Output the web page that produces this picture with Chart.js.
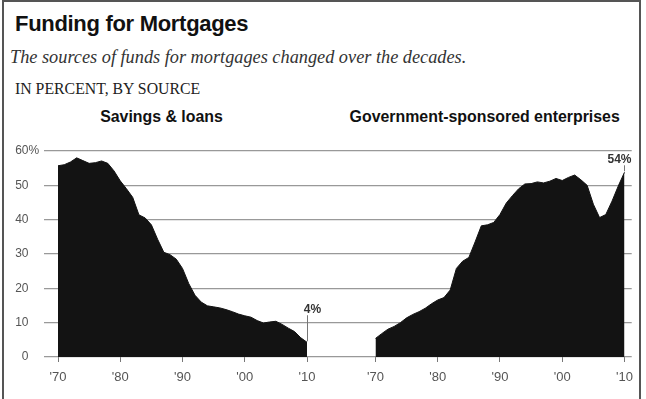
<!DOCTYPE html>
<html>
<head>
<meta charset="utf-8">
<script src="https://cdn.jsdelivr.net/npm/chart.js@4/dist/chart.umd.min.js"></script>
<style>
html,body{margin:0;padding:0;background:#fff;}
body{width:646px;height:399px;position:relative;overflow:hidden;}
#frame{position:absolute;left:2px;top:0;width:639px;height:430px;border:2px solid #555;box-sizing:border-box;}
.t{position:absolute;white-space:nowrap;}
#title{left:15px;top:13px;font:bold 22px/22px "Liberation Sans",Arial,sans-serif;color:#111;letter-spacing:-0.3px;}
#sub{left:10px;top:47.5px;font:italic 18.3px/18.3px "Liberation Serif","DejaVu Serif",serif;color:#333;}
#unit{left:15px;top:80.8px;font:15.8px/15.8px "Liberation Serif","DejaVu Serif",serif;color:#222;}
#p1{left:61.5px;width:200px;top:109.2px;text-align:center;font:bold 15.9px/15.9px "Liberation Sans",Arial,sans-serif;color:#111;}
#p2{left:334.7px;width:300px;top:109.2px;text-align:center;font:bold 15.9px/15.9px "Liberation Sans",Arial,sans-serif;color:#111;}
canvas{position:absolute;left:0;top:0;}
</style>
</head>
<body>
<div id="frame"></div>
<div class="t" id="title">Funding for Mortgages</div>
<div class="t" id="sub">The sources of funds for mortgages changed over the decades.</div>
<div class="t" id="unit">IN PERCENT, BY SOURCE</div>
<div class="t" id="p1">Savings &amp; loans</div>
<div class="t" id="p2">Government-sponsored enterprises</div>
<canvas id="c" width="646" height="399"></canvas>
<script>
// ---- data ----
const years = [1970,1971,1972,1973,1974,1975,1976,1977,1978,1979,
               1980,1981,1982,1983,1984,1985,1986,1987,1988,1989,
               1990,1991,1992,1993,1994,1995,1996,1997,1998,1999,
               2000,2001,2002,2003,2004,2005,2006,2007,2008,2009,2010];
const savingsLoans = [55.7,56.0,56.8,58.0,57.2,56.4,56.6,57.1,56.4,54.2,
                      51.3,49.0,46.5,41.4,40.5,38.5,34.3,30.5,29.8,28.5,
                      25.8,21.4,18.0,16.0,14.9,14.6,14.3,13.8,13.2,12.5,
                      12.0,11.6,10.6,9.9,10.2,10.4,9.5,8.4,7.4,5.6,4.3];
const gse = [5.4,6.8,8.1,8.9,10.0,11.4,12.4,13.2,14.2,15.5,
             16.6,17.3,19.5,25.8,27.9,29.0,33.5,38.2,38.5,39.2,
             41.5,44.8,47.0,49.0,50.4,50.5,51.0,50.7,51.2,52.0,
             51.4,52.3,53.0,51.6,50.0,44.5,40.6,41.5,45.4,49.8,53.8];
const panelNames = ["Savings & loans","Government-sponsored enterprises"];
const xTickYears = [1970,1980,1990,2000,2010];
const xTickLabels = ["'70","'80","'90","'00","'10"];
const yTickLabels = ["0","10","20","30","40","50","60"];
const yTopSuffix = "%";
const endLabels = ["4%","54%"];

// ---- layout constants ----
const OFFSET = 51;          // shift of the second panel along the shared x axis
const XMIN = 1967.75, XMAX = 2062.16;

const leftPts = years.map((y,i)=>({x:y, y:savingsLoans[i]}));
const rightPts = years.map((y,i)=>({x:y+OFFSET, y:gse[i]}));
const tickPositions = xTickYears.concat(xTickYears.map(y=>y+OFFSET));

const annCfg = [{ds:0, text:endLabels[0], len:27, dx:5},
                {ds:1, text:endLabels[1], len:7, dx:-5}];

const annPlugin = {
  id:'ann',
  afterDatasetsDraw(chart){
    const ctx = chart.ctx;
    ctx.save();
    annCfg.forEach(a=>{
      const meta = chart.getDatasetMeta(a.ds);
      const el = meta.data[meta.data.length-1];
      const x = Math.round(el.x)+0.5;
      const y = el.y;
      ctx.strokeStyle = '#777';
      ctx.lineWidth = 1;
      ctx.beginPath();
      ctx.moveTo(x, y-1);
      ctx.lineTo(x, y-a.len);
      ctx.stroke();
      ctx.fillStyle = '#333';
      ctx.font = '600 12px "Liberation Sans", Arial, sans-serif';
      ctx.textAlign = 'center';
      ctx.textBaseline = 'alphabetic';
      ctx.fillText(a.text, x + a.dx, y - a.len - 2.5);
    });
    const ys = chart.scales.y;
    ctx.fillStyle = '#555';
    ctx.font = '12px "Liberation Sans", Arial, sans-serif';
    ctx.textAlign = 'left';
    ctx.textBaseline = 'middle';
    ctx.fillText(yTopSuffix, 28.5, ys.getPixelForValue(60));
    ctx.restore();
  }
};

new Chart(document.getElementById('c'), {
  type:'line',
  data:{
    datasets:[
      {label:panelNames[0], data:leftPts, fill:'origin', backgroundColor:'#131313', borderColor:'#131313', borderWidth:1, pointRadius:0, tension:0},
      {label:panelNames[1], data:rightPts, fill:'origin', backgroundColor:'#131313', borderColor:'#131313', borderWidth:1, pointRadius:0, tension:0}
    ]
  },
  options:{
    responsive:false,
    animation:false,
    devicePixelRatio:1,
    layout:{padding:{top:151, right:14.3, left:0, bottom:0}},
    plugins:{legend:{display:false}, tooltip:{enabled:false}},
    scales:{
      x:{
        type:'linear', min:XMIN, max:XMAX,
        afterBuildTicks(s){ s.ticks = tickPositions.map(v=>({value:v})); },
        afterFit(s){ s.height = 42; },
        grid:{drawOnChartArea:false, drawTicks:true, tickLength:5, color:'#777', lineWidth:1},
        border:{display:false},
        ticks:{autoSkip:false, maxRotation:0, padding:8, color:'#555',
               font:{family:'"Liberation Sans", Arial, sans-serif', size:13},
               callback:(v,i)=>xTickLabels[i % xTickLabels.length]}
      },
      y:{
        min:0, max:60,
        afterBuildTicks(s){ s.ticks = yTickLabels.map(t=>({value:Number(t)})); },
        afterFit(s){ s.width = 44; },
        grid:{drawTicks:false, color:'#999', lineWidth:1.3},
        border:{display:false},
        ticks:{padding:15.5, color:'#555',
               font:{family:'"Liberation Sans", Arial, sans-serif', size:12},
               callback:(v,i)=>yTickLabels[i]}
      }
    }
  },
  plugins:[annPlugin]
});
</script>
</body>
</html>
